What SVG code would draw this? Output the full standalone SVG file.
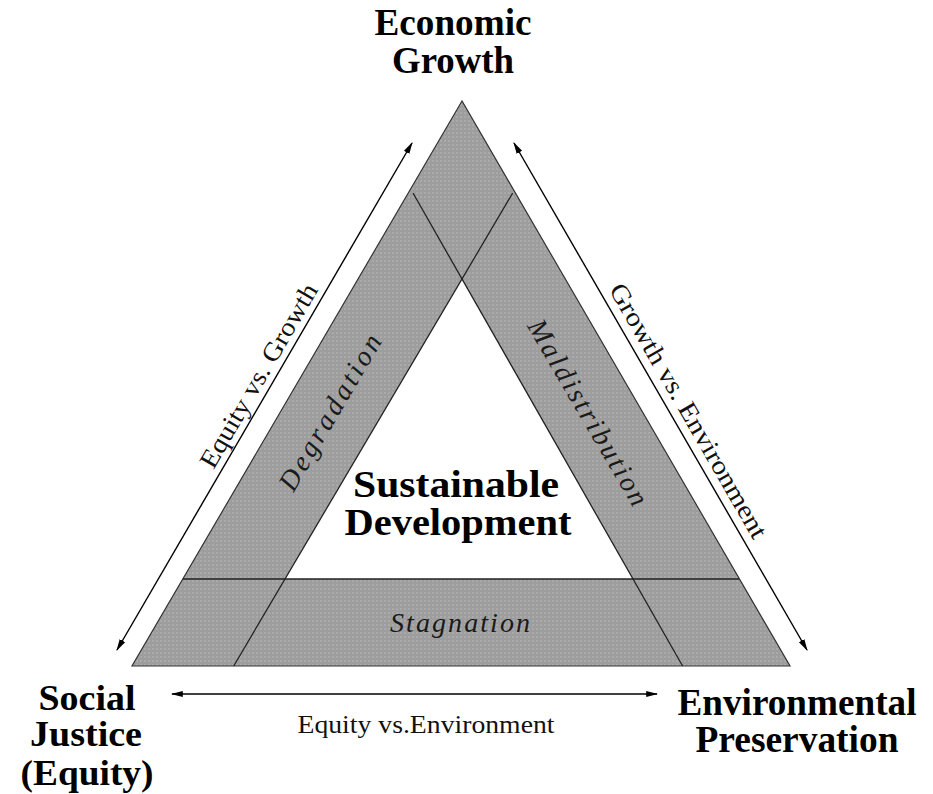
<svg xmlns="http://www.w3.org/2000/svg" width="933" height="794" viewBox="0 0 933 794">
<style>
.title{font-family:"Liberation Serif","Times New Roman",serif;font-weight:bold;font-size:37px;fill:#000;text-anchor:middle}
.small{font-size:35px}
.edge{font-family:"Liberation Serif","Times New Roman",serif;font-size:26px;fill:#111;text-anchor:middle}
.band{font-family:"Liberation Serif","Times New Roman",serif;font-style:italic;font-size:28px;fill:#1a1a1a;text-anchor:middle}
.div{stroke:#222;stroke-width:1.3;fill:none}
.arrow{stroke:#000;stroke-width:1.4;fill:none;marker-start:url(#ah);marker-end:url(#ah)}
</style>
<defs>
<pattern id="dots" width="4" height="4" patternUnits="userSpaceOnUse">
<rect width="4" height="4" fill="#9d9d9d"/>
<circle cx="1" cy="1" r="0.8" fill="#bababa"/>
</pattern>
<marker id="ah" viewBox="0 0 10 10" refX="9" refY="5" markerWidth="12" markerHeight="12" markerUnits="userSpaceOnUse" orient="auto-start-reverse">
<path d="M0,2.4 L10,5 L0,7.6 z" fill="#000"/>
</marker>
</defs>
<rect width="933" height="794" fill="#fff"/>

<g id="triangle">
<path d="M462,101 L132,666 L790,666 Z M462,279 L633,579 L285,579 Z" fill="url(#dots)" fill-rule="evenodd" stroke="none"/>
<path d="M462,101 L132,666 L790,666 Z" fill="none" stroke="#333" stroke-width="1.2"/>
<line class="div" x1="413" y1="193" x2="682.6" y2="666"/>
<line class="div" x1="512.7" y1="193" x2="233.7" y2="666"/>
<line class="div" x1="183" y1="579" x2="739" y2="579"/>
</g>

<g id="node-economic">
<text class="title" x="453" y="35" textLength="157" lengthAdjust="spacingAndGlyphs">Economic</text>
<text class="title" x="453" y="73" textLength="122" lengthAdjust="spacingAndGlyphs">Growth</text>
</g>
<g id="node-social">
<text class="title small" x="87" y="710" textLength="97" lengthAdjust="spacingAndGlyphs">Social</text>
<text class="title small" x="86" y="746" textLength="112" lengthAdjust="spacingAndGlyphs">Justice</text>
<text class="title small" x="87" y="785" textLength="133" lengthAdjust="spacingAndGlyphs">(Equity)</text>
</g>
<g id="node-environmental">
<text class="title" x="797" y="715" textLength="239" lengthAdjust="spacingAndGlyphs">Environmental</text>
<text class="title" x="797" y="752" textLength="203" lengthAdjust="spacingAndGlyphs">Preservation</text>
</g>
<g id="node-sustainable">
<text class="title" x="456" y="497" textLength="206" lengthAdjust="spacingAndGlyphs">Sustainable</text>
<text class="title" x="458" y="535" textLength="227" lengthAdjust="spacingAndGlyphs">Development</text>
</g>

<g id="band-labels">
<text class="band" transform="translate(338,417) rotate(-59.65)" textLength="176">Degradation</text>
<text class="band" transform="translate(580,417) rotate(59.65)" textLength="211">Maldistribution</text>
<text class="band" x="460" y="632" textLength="140">Stagnation</text>
</g>

<g id="connectors">
<line class="arrow" x1="412" y1="143" x2="117" y2="650"/>
<line class="arrow" x1="514" y1="143" x2="807" y2="650"/>
<line class="arrow" x1="172" y1="694" x2="657" y2="694"/>
</g>

<g id="connector-labels">
<text class="edge" transform="translate(266,380) rotate(-59.8)" textLength="209" lengthAdjust="spacingAndGlyphs">Equity vs. Growth</text>
<text class="edge" transform="translate(681,415) rotate(60)" textLength="290" lengthAdjust="spacingAndGlyphs">Growth vs. Environment</text>
<text class="edge" x="426" y="733" textLength="257" lengthAdjust="spacingAndGlyphs">Equity vs.Environment</text>
</g>
</svg>
